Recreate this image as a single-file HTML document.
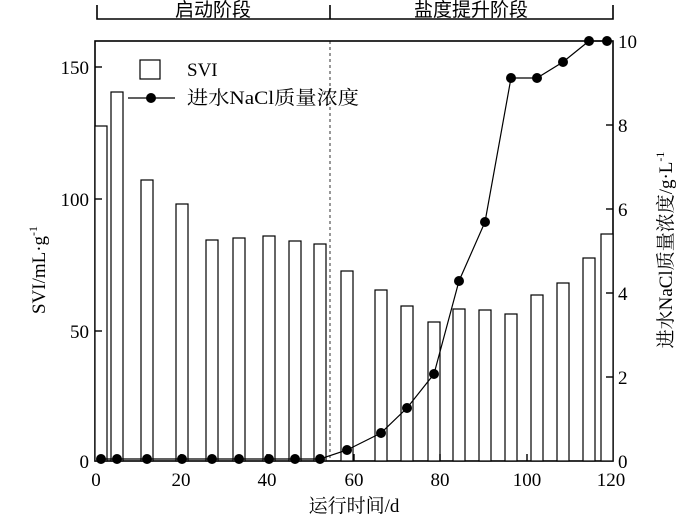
<!DOCTYPE html>
<html><head><meta charset="utf-8"><style>body{margin:0;background:#fff}svg{display:block}text{font-family:"Liberation Serif","Noto Serif CJK SC",serif;fill:#000}</style></head>
<body>
<svg width="700" height="524" viewBox="0 0 700 524">
<g stroke="#000" fill="none" stroke-width="1.6">
<polyline points="97,5 97,19 613,19 613,5"/>
<line x1="330" y1="5" x2="330" y2="19"/>
<rect x="95" y="41" width="518" height="420"/>
</g>
<line x1="330" y1="41" x2="330" y2="461" stroke="#000" stroke-width="0.8" stroke-dasharray="3,3"/>
<g font-size="19" text-anchor="middle">
<text x="213" y="16" style="font-family:'Noto Sans CJK SC',sans-serif">启动阶段</text>
<text x="471" y="16" style="font-family:'Noto Sans CJK SC',sans-serif">盐度提升阶段</text>
</g>
<g stroke="#000" stroke-width="1.2" fill="#fff">
<rect x="95" y="126" width="12" height="335"/>
<rect x="111" y="92" width="12" height="369"/>
<rect x="141" y="180" width="12" height="281"/>
<rect x="176" y="204" width="12" height="257"/>
<rect x="206" y="240" width="12" height="221"/>
<rect x="233" y="238" width="12" height="223"/>
<rect x="263" y="236" width="12" height="225"/>
<rect x="289" y="241" width="12" height="220"/>
<rect x="314" y="244" width="12" height="217"/>
<rect x="341" y="271" width="12" height="190"/>
<rect x="375" y="290" width="12" height="171"/>
<rect x="401" y="306" width="12" height="155"/>
<rect x="428" y="322" width="12" height="139"/>
<rect x="453" y="309" width="12" height="152"/>
<rect x="479" y="310" width="12" height="151"/>
<rect x="505" y="314" width="12" height="147"/>
<rect x="531" y="295" width="12" height="166"/>
<rect x="557" y="283" width="12" height="178"/>
<rect x="583" y="258" width="12" height="203"/>
<rect x="601" y="234" width="12" height="227"/>
</g>
<g stroke="#000" stroke-width="1.4">
<line x1="95" y1="67" x2="102" y2="67"/><line x1="95" y1="199" x2="102" y2="199"/><line x1="95" y1="331" x2="102" y2="331"/>
<line x1="613" y1="125" x2="606" y2="125"/><line x1="613" y1="209" x2="606" y2="209"/><line x1="613" y1="293" x2="606" y2="293"/><line x1="613" y1="377" x2="606" y2="377"/>
<line x1="181" y1="461" x2="181" y2="454"/><line x1="267" y1="461" x2="267" y2="454"/><line x1="354" y1="461" x2="354" y2="454"/><line x1="440" y1="461" x2="440" y2="454"/><line x1="527" y1="461" x2="527" y2="454"/>
</g>
<polyline fill="none" stroke="#000" stroke-width="1.2" points="101,459 117,459 147,459 182,459 212,459 239,459 269,459 295,459 320,459 347,450 381,433 407,408 434,374 459,281 485,222 511,78 537,78 563,62 589,41 607,41"/>
<g fill="#000">
<circle cx="101" cy="459" r="5"/><circle cx="117" cy="459" r="5"/><circle cx="147" cy="459" r="5"/><circle cx="182" cy="459" r="5"/><circle cx="212" cy="459" r="5"/><circle cx="239" cy="459" r="5"/><circle cx="269" cy="459" r="5"/><circle cx="295" cy="459" r="5"/><circle cx="320" cy="459" r="5"/><circle cx="347" cy="450" r="5"/><circle cx="381" cy="433" r="5"/><circle cx="407" cy="408" r="5"/><circle cx="434" cy="374" r="5"/><circle cx="459" cy="281" r="5"/><circle cx="485" cy="222" r="5"/><circle cx="511" cy="78" r="5"/><circle cx="537" cy="78" r="5"/><circle cx="563" cy="62" r="5"/><circle cx="589" cy="41" r="5"/><circle cx="607" cy="41" r="5"/>
</g>
<rect x="140" y="60" width="20" height="19" fill="#fff" stroke="#000" stroke-width="1.2"/>
<text x="187" y="76" font-size="19">SVI</text>
<line x1="128" y1="98" x2="175" y2="98" stroke="#000" stroke-width="1.2"/>
<circle cx="151" cy="98" r="5" fill="#000"/>
<text x="187" y="104" font-size="19" textLength="172" lengthAdjust="spacingAndGlyphs">进水NaCl质量浓度</text>
<g font-size="19" text-anchor="end">
<text x="89" y="74">150</text><text x="89" y="206">100</text><text x="89" y="338">50</text><text x="89" y="468">0</text>
</g>
<g font-size="19" text-anchor="start">
<text x="618" y="48">10</text><text x="618" y="132">8</text><text x="618" y="216">6</text><text x="618" y="300">4</text><text x="618" y="384">2</text><text x="618" y="468">0</text>
</g>
<g font-size="19" text-anchor="middle">
<text x="96" y="486">0</text><text x="181" y="486">20</text><text x="267" y="486">40</text><text x="354" y="486">60</text><text x="440" y="486">80</text><text x="527" y="486">100</text><text x="611" y="486">120</text>
<text x="354" y="512">运行时间/d</text>
</g>
<text transform="translate(45,270) rotate(-90)" font-size="19" text-anchor="middle">SVI/mL·g<tspan dy="-8" font-size="12">-1</tspan></text>
<text transform="translate(672,250) rotate(-90)" font-size="19" text-anchor="middle">进水NaCl质量浓度/g·L<tspan dy="-8" font-size="12">-1</tspan></text>
</svg>
</body></html>
